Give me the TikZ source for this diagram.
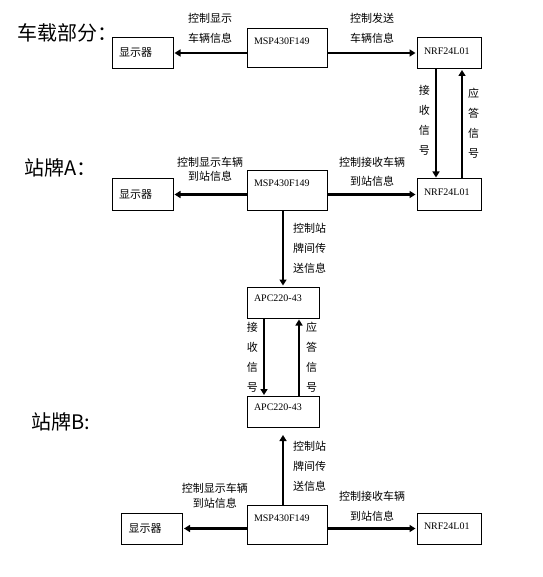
\documentclass[tikz,border=0pt]{standalone}
\usepackage{fontspec}
\setmainfont{Liberation Serif}
\newfontfamily\cjk{Noto Sans CJK SC}
\usetikzlibrary{arrows.meta}

\begin{document}
\begin{tikzpicture}[
        x=1pt, y=-1pt,
        box/.style={
            draw,
            line width=1pt,
            inner xsep=7pt,
            inner ysep=0pt,
            align=left,
            font=\fontsize{10}{12}\selectfont
        },
        xsq/.style={box, text width=47pt, minimum height=31pt, font=\cjk\fontsize{11}{13}\selectfont},
        mcu/.style={box, text width=66pt, minimum height=39pt, text depth=14pt},
        rf/.style={box, text width=50pt, minimum height=31pt, text depth=4pt},
        apc/.style={box, text width=58pt, minimum height=31pt, text depth=9pt},
        lbl/.style={font=\cjk\fontsize{11}{20}\selectfont, align=center, inner sep=1pt},
        title/.style={font=\cjk\fontsize{20}{24}\selectfont, anchor=west, inner sep=0pt},
        arr/.style={
            -{Triangle[length=6pt,width=7pt]},
            line width=2.1pt,
            shorten >=1pt
        }
    ]
    \useasboundingbox (0,0) rectangle (542,577);

    % 车载部分
    \node[title] (tcar) at (17,33) {车载部分：};
    \node[xsq] (dispV) at (142.5,53) {显示器};
    \node[mcu] (mcuV) at (287,48.5) {MSP430F149};
    \node[rf] (nrfV) at (449,53) {NRF24L01};
    \draw[arr] (dispV -| mcuV.west) -- node[lbl, above=8pt] {控制显示\\车辆信息} (dispV.east);
    \draw[arr] (nrfV -| mcuV.east) -- node[lbl, above=8pt] {控制发送\\车辆信息} (nrfV.west);

    % 站牌A
    \node[title] (tA) at (24,168) {站牌A：};
    \node[xsq] (dispA) at (142.5,194.5) {显示器};
    \node[mcu] (mcuA) at (287,190.5) {MSP430F149};
    \node[rf] (nrfA) at (449,194.5) {NRF24L01};
    \draw[arr] (dispA -| mcuA.west) -- node[lbl, above=11pt] {控制显示车辆\\[-6pt]到站信息} (dispA.east);
    \draw[arr] (nrfA -| mcuA.east) -- node[lbl, above=6pt] {控制接收车辆\\[-1pt]到站信息} (nrfA.west);

    % 车载与站牌A之间
    \draw[arr] ([xshift=-13pt]nrfV.south) -- node[lbl, left=4pt, pos=0.47] {接\\收\\信\\号} ([xshift=-13pt]nrfA.north);
    \draw[arr] ([xshift=13pt]nrfA.north) -- node[lbl, right=4pt] {应\\答\\信\\号} ([xshift=13pt]nrfV.south);

    % 站牌间无线模块
    \node[apc] (apcA) at (283,302.5) {APC220-43};
    \node[apc] (apcB) at (283,412) {APC220-43};
    \draw[arr] (apcA.north |- mcuA.south) -- node[lbl, right=8pt] {控制站\\牌间传\\送信息} (apcA.north);
    \draw[arr] ([xshift=-19pt]apcA.south) -- node[lbl, left=4pt] {接\\收\\信\\号} ([xshift=-19pt]apcB.north);
    \draw[arr] ([xshift=16pt]apcB.north) -- node[lbl, right=5pt] {应\\答\\信\\号} ([xshift=16pt]apcA.south);

    % 站牌B
    \node[title] (tB) at (31,422) {站牌B:};
    \node[xsq] (dispB) at (152,528.5) {显示器};
    \node[mcu] (mcuB) at (287,525) {MSP430F149};
    \node[rf] (nrfB) at (449,528.5) {NRF24L01};
    \draw[arr, shorten >=7pt] (apcB.south |- mcuB.north) -- node[lbl, right=8pt] {控制站\\牌间传\\送信息} (apcB.south);
    \draw[arr] (dispB -| mcuB.west) -- node[lbl, above=18pt] {控制显示车辆\\[-5pt]到站信息} (dispB.east);
    \draw[arr] (nrfB -| mcuB.east) -- node[lbl, above=5pt] {控制接收车辆\\到站信息} (nrfB.west);
\end{tikzpicture}
\end{document}
